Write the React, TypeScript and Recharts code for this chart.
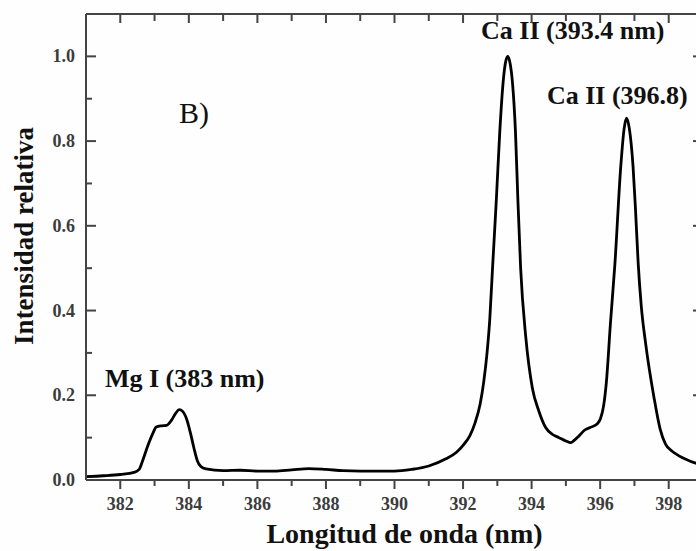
import React from 'react';
import { LineChart, Line, XAxis, YAxis, ReferenceDot } from 'recharts';

const wavelength = [
  381.0, 381.5, 382.0, 382.4, 382.55, 382.65, 382.8, 382.95, 383.05, 383.2, 383.35, 383.5, 383.62,
  383.72, 383.82, 383.93, 384.05, 384.15, 384.25, 384.35, 384.5, 385.0, 385.5, 386.0, 386.5, 387.0,
  387.5, 388.0, 388.5, 389.0, 389.5, 390.0, 390.5, 391.0, 391.5, 391.8, 392.0, 392.2, 392.35, 392.5,
  392.6, 392.7, 392.78, 392.86, 392.97, 393.07, 393.17, 393.25, 393.31, 393.38, 393.44, 393.53,
  393.6, 393.68, 393.83, 394.02, 394.21, 394.41, 394.6, 394.8, 395.0, 395.14, 395.25, 395.38,
  395.55, 395.77, 395.92, 396.01, 396.1, 396.18, 396.3, 396.43, 396.6, 396.7, 396.77, 396.85,
  396.96, 397.03, 397.11, 397.2, 397.33, 397.57, 397.75, 397.91, 398.1, 398.3, 398.5, 398.74, 399.0,
];
const intensity = [
  0.008, 0.01, 0.013, 0.018, 0.025, 0.045, 0.08, 0.11, 0.125, 0.128, 0.129, 0.142, 0.158,
  0.166, 0.162, 0.145, 0.11, 0.075, 0.045, 0.032, 0.026, 0.022, 0.023, 0.021, 0.021, 0.024,
  0.027, 0.025, 0.022, 0.021, 0.021, 0.021, 0.025, 0.033, 0.05, 0.065, 0.082, 0.105, 0.135, 0.18,
  0.23, 0.3, 0.38, 0.5, 0.66, 0.82, 0.94, 0.99, 1.0, 0.98, 0.94, 0.82,
  0.66, 0.5, 0.337, 0.218, 0.163, 0.124, 0.108, 0.1, 0.092, 0.088, 0.094, 0.104,
  0.118, 0.126, 0.133, 0.145, 0.175, 0.23, 0.37, 0.51, 0.739, 0.83, 0.854, 0.83,
  0.739, 0.64, 0.51, 0.41, 0.32, 0.195, 0.12, 0.084, 0.068, 0.057, 0.049, 0.041, 0.035,
];

const xTicks = [382, 383, 384, 385, 386, 387, 388, 389, 390, 391, 392, 393, 394, 395, 396, 397, 398, 399];
const yTicks = [0, 0.1, 0.2, 0.3, 0.4, 0.5, 0.6, 0.7, 0.8, 0.9, 1.0];

const annotationLabels = ['Ca II (393.4 nm)', 'Ca II (396.8)', 'Mg I (383 nm)', 'B)'];
const annotationX = [395.2, 396.5, 383.88, 384.15];
const annotationY = [1.041, 0.888, 0.2195, 0.843];
const annotationBold = [true, true, true, false];

const xTitle = 'Longitud de onda (nm)';
const yTitle = 'Intensidad relativa';

const data = wavelength.map((w, i) => ({ w, v: intensity[i] }));

const FONT = '"Liberation Serif", "Times New Roman", serif';
const AXIS = '#444444';
const TICK_TEXT = '#3c3c3c';

const isMajorX = (v: number) => Math.round(v) % 2 === 0;
const isMajorY = (v: number) => Math.round(v * 10) % 2 === 0;

const BottomTick = (p: any) => {
  const v = p.payload.value;
  const major = isMajorX(v);
  return (
    <g>
      <line x1={p.x} x2={p.x} y1={p.y} y2={p.y + (major ? 9 : 6)} stroke={AXIS} strokeWidth={2} />
      {major && (
        <text x={p.x} y={p.y + 30} textAnchor="middle" fontFamily={FONT} fontWeight="bold" fontSize={18} fill={TICK_TEXT}>
          {v}
        </text>
      )}
    </g>
  );
};

const TopTick = (p: any) => {
  const v = p.payload.value;
  const major = isMajorX(v);
  return <line x1={p.x} x2={p.x} y1={p.y} y2={p.y + (major ? 9 : 7)} stroke={AXIS} strokeWidth={2} />;
};

const LeftTick = (p: any) => {
  const v = p.payload.value;
  const major = isMajorY(v);
  return (
    <g>
      <line x1={p.x} x2={p.x + (major ? 10 : 6)} y1={p.y} y2={p.y} stroke={AXIS} strokeWidth={2} />
      {major && (
        <text x={p.x - 11} y={p.y + 6} textAnchor="end" fontFamily={FONT} fontWeight="bold" fontSize={18} fill={TICK_TEXT}>
          {v.toFixed(1)}
        </text>
      )}
    </g>
  );
};

const RightTick = (p: any) => {
  const v = p.payload.value;
  const major = isMajorY(v);
  return <line x1={p.x} x2={p.x - (major ? 10 : 6)} y1={p.y} y2={p.y} stroke={AXIS} strokeWidth={2} />;
};

export default function App() {
  return (
    <div style={{ position: 'absolute', left: 0, top: 0, width: 696, height: 551, overflow: 'hidden', background: '#fefefe' }}>
      <LineChart width={720} height={551} data={data} margin={{ top: 13, right: 16, bottom: 0, left: 0 }}>
        <XAxis
          xAxisId="b"
          dataKey="w"
          type="number"
          domain={[381, 399]}
          allowDataOverflow
          ticks={xTicks}
          interval={0}
          height={71}
          tickSize={0}
          tickMargin={0}
          tickLine={false}
          axisLine={{ stroke: AXIS, strokeWidth: 2 }}
          tick={BottomTick}
          label={{
            content: (props: any) => {
              const vb = props.viewBox;
              return (
                <text x={vb.x + vb.width / 2 + 10} y={vb.y + 63} textAnchor="middle" fontFamily={FONT} fontWeight="bold" fontSize={28} fill="#111">
                  {xTitle}
                </text>
              );
            },
          }}
        />
        <XAxis
          xAxisId="t"
          orientation="top"
          type="number"
          dataKey="w"
          domain={[381, 399]}
          allowDataOverflow
          ticks={xTicks}
          interval={0}
          height={1}
          tickSize={0}
          tickMargin={0}
          tickLine={false}
          axisLine={{ stroke: AXIS, strokeWidth: 2 }}
          tick={TopTick}
        />
        <YAxis
          yAxisId="l"
          type="number"
          domain={[0, 1.1]}
          allowDataOverflow
          ticks={yTicks}
          interval={0}
          width={86}
          tickSize={0}
          tickMargin={0}
          tickLine={false}
          axisLine={{ stroke: AXIS, strokeWidth: 2 }}
          tick={LeftTick}
          label={{
            content: (props: any) => {
              const vb = props.viewBox;
              const cx = 33;
              const cy = vb.y + vb.height / 2 - 11;
              return (
                <text x={cx} y={cy} transform={`rotate(-90 ${cx} ${cy})`} textAnchor="middle" fontFamily={FONT} fontWeight="bold" fontSize={27} fill="#111">
                  {yTitle}
                </text>
              );
            },
          }}
        />
        <YAxis
          yAxisId="r"
          orientation="right"
          type="number"
          domain={[0, 1.1]}
          allowDataOverflow
          ticks={yTicks}
          interval={0}
          width={1}
          tickSize={0}
          tickMargin={0}
          tickLine={false}
          axisLine={{ stroke: AXIS, strokeWidth: 2 }}
          tick={RightTick}
        />
        <Line
          xAxisId="b"
          yAxisId="l"
          type="monotone"
          dataKey="v"
          stroke="#000"
          strokeWidth={2.8}
          dot={false}
          activeDot={false}
          isAnimationActive={false}
        />
        {annotationLabels.map((lab, i) => (
          <ReferenceDot
            key={lab}
            xAxisId="b"
            yAxisId="l"
            x={annotationX[i]}
            y={annotationY[i]}
            r={0}
            ifOverflow="visible"
            shape={(p: any) => (
              <text
                x={p.cx}
                y={p.cy}
                textAnchor="middle"
                fontFamily={FONT}
                fontWeight={annotationBold[i] ? 'bold' : 'normal'}
                fontSize={annotationBold[i] ? 26 : 30}
                fill="#111"
              >
                {lab}
              </text>
            )}
          />
        ))}
      </LineChart>
    </div>
  );
}
